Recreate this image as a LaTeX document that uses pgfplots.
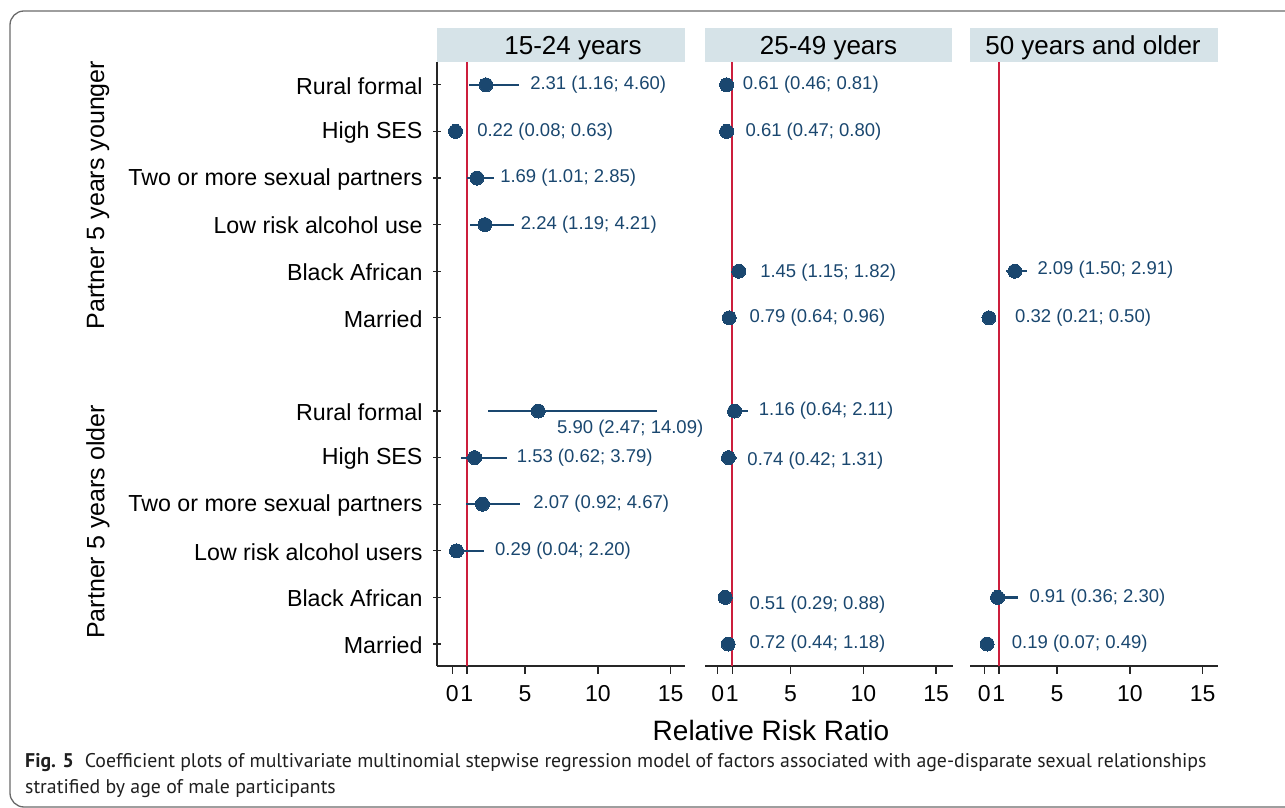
\documentclass[border=0pt]{standalone}
\usepackage{fontspec}
\setmainfont{Liberation Sans}
\newfontfamily\capfont{PT Sans}
\usepackage{pgfplots}
\usepackage{pgfplotstable}
\pgfplotsset{compat=1.18}
\definecolor{navy}{HTML}{1A476F}
\definecolor{refred}{HTML}{CC1E3C}
\definecolor{hdr}{HTML}{D6E3E8}
\definecolor{framec}{HTML}{6A6A6A}
\protected\def\semi{;}

% ---- data: y-row, estimate, lower CI, upper CI ----
\pgfplotstableread{
y est lo hi
13 2.31 1.16 4.60
12 0.22 0.08 0.63
11 1.69 1.01 2.85
10 2.24 1.19 4.21
6 5.90 2.47 14.09
5 1.53 0.62 3.79
4 2.07 0.92 4.67
3 0.29 0.04 2.20
}\dataA
\pgfplotstableread{
y est lo hi
13 0.61 0.46 0.81
12 0.61 0.47 0.80
9 1.45 1.15 1.82
8 0.79 0.64 0.96
6 1.16 0.64 2.11
5 0.74 0.42 1.31
2 0.51 0.29 0.88
1 0.72 0.44 1.18
}\dataB
\pgfplotstableread{
y est lo hi
9 2.09 1.50 2.91
8 0.32 0.21 0.50
2 0.91 0.36 2.30
1 0.19 0.07 0.49
}\dataC
% ---- label positions ----
\pgfplotstableread[col sep=comma]{
lx,ly,lab
5.34,13,2.31 (1.16\semi{} 4.60)
1.70,12,0.22 (0.08\semi{} 0.63)
3.28,11,1.69 (1.01\semi{} 2.85)
4.70,10,2.24 (1.19\semi{} 4.21)
7.19,5.61,5.90 (2.47\semi{} 14.09)
4.42,5,1.53 (0.62\semi{} 3.79)
5.55,4.02,2.07 (0.92\semi{} 4.67)
2.93,3,0.29 (0.04\semi{} 2.20)
}\labA
\pgfplotstableread[col sep=comma]{
lx,ly,lab
1.72,13,0.61 (0.46\semi{} 0.81)
1.90,12,0.61 (0.47\semi{} 0.80)
2.91,8.97,1.45 (1.15\semi{} 1.82)
2.17,8,0.79 (0.64\semi{} 0.96)
2.81,6,1.16 (0.64\semi{} 2.11)
2.03,4.93,0.74 (0.42\semi{} 1.31)
2.17,1.84,0.51 (0.29\semi{} 0.88)
2.17,1,0.72 (0.44\semi{} 1.18)
}\labB
\pgfplotstableread[col sep=comma]{
lx,ly,lab
3.64,9.04,2.09 (1.50\semi{} 2.91)
2.11,8,0.32 (0.21\semi{} 0.50)
3.09,2,0.91 (0.36\semi{} 2.30)
1.88,1,0.19 (0.07\semi{} 0.49)
}\labC

\pgfplotsset{
  panel/.style={
    scale only axis, width=248pt, height=604pt,
    ymin=0.528, ymax=13.49,
    clip=false,
    axis x line=bottom,
    xtick={0,1,5,10,15},
    tick align=outside,
    major tick length=8pt,
    every tick/.style={line width=1.3pt, black!85},
    xticklabel style={font=\fontsize{23}{23}\selectfont, text=black, yshift=-8pt},
    /pgf/number format/assume math mode=true,
  },
  nolinearrows/.style={
    axis line style={-, line width=1.3pt, black!85},
    x axis line style={-},
    y axis line style={-},
  },
  ci/.style={navy, only marks, mark=*, mark size=7pt,
    mark options={solid, fill=navy, draw=navy, line width=0pt},
    error bars/.cd, x dir=both, x explicit, error mark=none,
    error bar style={line width=2.2pt, navy}},
  lbl/.style={draw=none, mark=none, point meta=explicit symbolic, nodes near coords,
    nodes near coords style={anchor=west, inner sep=0pt,
      font=\fontsize{18.5}{18.5}\selectfont, text=navy}},
}

\begin{document}
\begin{tikzpicture}
\path[use as bounding box] (0pt,0pt) rectangle (1285pt,808pt);

% frame
\begin{scope}
\clip (0pt,0pt) rectangle (1285pt,808pt);
\draw[framec, line width=1.3pt, rounded corners=14pt] (10pt,1pt) rectangle (1320pt,797pt);
\end{scope}

% header boxes
\fill[hdr] (437pt,746pt) rectangle (685pt,780pt);
\fill[hdr] (705pt,746pt) rectangle (952pt,780pt);
\fill[hdr] (970pt,746pt) rectangle (1218pt,780pt);
\node[anchor=base, font=\fontsize{26}{26}\selectfont] at (573pt,753pt) {15-24 years};
\node[anchor=base, font=\fontsize{26}{26}\selectfont] at (828.5pt,753pt) {25-49 years};
\node[anchor=base, font=\fontsize{26}{26}\selectfont] at (1093pt,753pt) {50 years and older};

% panel 1
\begin{axis}[panel, at={(437pt,142pt)}, anchor=south west,
  xmin=-1.051, xmax=15.98,
  axis y line=left,
  nolinearrows,
  ytick={1,2,3,4,5,6,8,9,10,11,12,13},
  yticklabels={Married, Black African, Low risk alcohol users, Two or more sexual partners, High SES, Rural formal,
               Married, Black African, Low risk alcohol use, Two or more sexual partners, High SES, Rural formal},
  yticklabel style={font=\fontsize{23.2}{23.2}\selectfont, text=black, xshift=-7pt, yshift=-1pt},
]
\addplot[refred, line width=2pt, mark=none] coordinates {(1,0.528) (1,13.49)};
\addplot[ci] table[x=est, y=y, x error plus expr=\thisrow{hi}-\thisrow{est}, x error minus expr=\thisrow{est}-\thisrow{lo}] {\dataA};
\addplot[lbl] table[x=lx, y=ly, meta=lab] {\labA};
\end{axis}

% panel 2
\begin{axis}[panel, at={(705pt,142pt)}, anchor=south west,
  xmin=-0.872, xmax=16.16,
  axis y line=none, ytick=\empty,
  nolinearrows,
]
\addplot[refred, line width=2pt, mark=none] coordinates {(1,0.528) (1,13.49)};
\addplot[ci] table[x=est, y=y, x error plus expr=\thisrow{hi}-\thisrow{est}, x error minus expr=\thisrow{est}-\thisrow{lo}] {\dataB};
\addplot[lbl] table[x=lx, y=ly, meta=lab] {\labB};
\end{axis}

% panel 3
\begin{axis}[panel, at={(970pt,142pt)}, anchor=south west,
  xmin=-0.982, xmax=16.05,
  axis y line=none, ytick=\empty,
  nolinearrows,
]
\addplot[refred, line width=2pt, mark=none] coordinates {(1,0.528) (1,13.49)};
\addplot[ci] table[x=est, y=y, x error plus expr=\thisrow{hi}-\thisrow{est}, x error minus expr=\thisrow{est}-\thisrow{lo}] {\dataC};
\addplot[lbl] table[x=lx, y=ly, meta=lab] {\labC};
\end{axis}

% group labels
\node[rotate=90, font=\fontsize{25}{25}\selectfont] at (98pt,613pt) {Partner 5 years younger};
\node[rotate=90, font=\fontsize{25}{25}\selectfont] at (98pt,286pt) {Partner 5 years older};

% x label
\node[anchor=base, font=\fontsize{28}{28}\selectfont] at (771pt,67pt) {Relative Risk Ratio};

% caption
\node[anchor=base west, inner sep=0pt, text=black!88, font=\capfont\fontsize{19.8}{19.8}\selectfont] at (25pt,40pt)
  {\textbf{Fig. 5}\hspace{0.55em}Coefficient plots of multivariate multinomial stepwise regression model of factors associated with age-disparate sexual relationships};
\node[anchor=base west, inner sep=0pt, text=black!88, font=\capfont\fontsize{19.8}{19.8}\selectfont] at (25pt,14pt)
  {stratified by age of male participants};
\end{tikzpicture}
\end{document}
